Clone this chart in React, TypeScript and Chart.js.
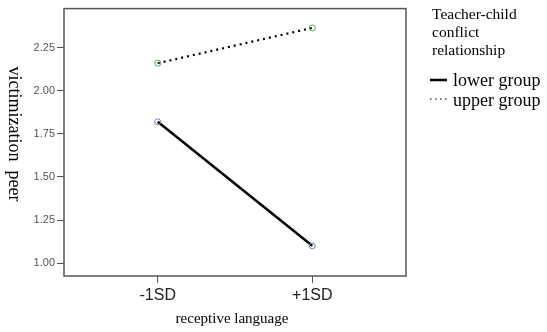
import React, { useEffect, useRef } from "react";
import { Chart, registerables } from "chart.js";

Chart.register(...registerables);

const categories = ["-1SD", "+1SD"];
const xPositions = [-1, 1];
const lowerGroup = [1.82, 1.1];
const upperGroup = [2.16, 2.365];
const yTicks = [1.0, 1.25, 1.5, 1.75, 2.0, 2.25];
const legendTitle = ["Teacher-child", "conflict", "relationship"];
const seriesNames = ["lower group", "upper group"];
const xTitle = "receptive language";
const yTitle = "victimization  peer";

export default function App() {
  const ref = useRef<HTMLCanvasElement>(null);
  useEffect(() => {
    document.body.style.margin = "0";
    const canvas = ref.current!;
    const serif = "'Liberation Serif', 'DejaVu Serif', serif";
    const sans = "'Liberation Sans', Arial, sans-serif";
    const decor = {
      id: "decor",
      afterDraw(chart: any) {
        const { ctx, chartArea: a } = chart;
        ctx.save();
        ctx.strokeStyle = "#555";
        ctx.lineWidth = 1.5;
        ctx.strokeRect(a.left, a.top, a.right - a.left, a.bottom - a.top);
        ctx.fillStyle = "#000";
        // axis titles
        ctx.font = `15px ${serif}`;
        ctx.textAlign = "center";
        ctx.textBaseline = "middle";
        ctx.fillText(xTitle, 232, 319);
        ctx.save();
        ctx.translate(14, 134);
        ctx.rotate(Math.PI / 2);
        ctx.font = `18px ${serif}`;
        ctx.fillText(yTitle, 0, 0);
        ctx.restore();
        // legend
        ctx.textAlign = "left";
        ctx.textBaseline = "alphabetic";
        ctx.font = `15.5px ${serif}`;
        legendTitle.forEach((t, i) => ctx.fillText(t, 432, 19 + i * 18));
        ctx.font = `18px ${serif}`;
        const ly = [86, 106];
        ctx.fillText(seriesNames[0], 453, ly[0]);
        ctx.fillText(seriesNames[1], 453, ly[1]);
        ctx.strokeStyle = "#000";
        ctx.lineWidth = 2.5;
        ctx.beginPath();
        ctx.moveTo(430, ly[0] - 6);
        ctx.lineTo(447, ly[0] - 6);
        ctx.stroke();
        ctx.lineWidth = 1.5;
        ctx.strokeStyle = "#444";
        ctx.setLineDash([1.5, 3.5]);
        ctx.beginPath();
        ctx.moveTo(430, ly[1] - 7);
        ctx.lineTo(447, ly[1] - 7);
        ctx.stroke();
        ctx.restore();
      },
    };
    const chart = new Chart(canvas, {
      type: "line",
      data: {
        datasets: [
          {
            label: seriesNames[0],
            data: xPositions.map((x, i) => ({ x, y: lowerGroup[i] })),
            borderColor: "#000",
            borderWidth: 2.5,
            pointRadius: 3,
            pointBorderColor: "#6f7fb0",
            pointBackgroundColor: "rgba(255,255,255,0)",
            pointBorderWidth: 1,
          },
          {
            label: seriesNames[1],
            data: xPositions.map((x, i) => ({ x, y: upperGroup[i] })),
            borderColor: "#000",
            borderWidth: 2.2,
            borderDash: [2, 4],
            pointRadius: 3,
            pointBorderColor: "#5aa865",
            pointBackgroundColor: "rgba(255,255,255,0)",
            pointBorderWidth: 1,
          },
        ],
      },
      options: {
        animation: false,
        responsive: false,
        layout: { padding: { top: 7, right: 141, left: 0, bottom: 0 } },
        plugins: { legend: { display: false }, tooltip: { enabled: false } },
        scales: {
          x: {
            type: "linear",
            min: -2.213,
            max: 2.213,
            afterBuildTicks: (s: any) => {
              s.ticks = xPositions.map((v) => ({ value: v }));
            },
            afterFit: (s: any) => {
              s.height = 56;
            },
            ticks: {
              callback: (v: any) => categories[xPositions.indexOf(Number(v))] ?? "",
              color: "#222",
              font: { family: sans, size: 16 },
              padding: 3,
              maxRotation: 0,
            },
            grid: { drawOnChartArea: false, tickLength: 7, color: "#555", lineWidth: 1 },
            border: { display: false },
          },
          y: {
            min: 0.925,
            max: 2.477,
            afterBuildTicks: (s: any) => {
              s.ticks = yTicks.map((v) => ({ value: v }));
            },
            afterFit: (s: any) => {
              s.width = 64;
            },
            ticks: {
              callback: (v: any) => Number(v).toFixed(2),
              color: "#555",
              font: { family: sans, size: 11 },
              padding: 2,
            },
            grid: { drawOnChartArea: false, tickLength: 7, color: "#555", lineWidth: 1 },
            border: { display: false },
          },
        },
      },
      plugins: [decor],
    } as any);
    return () => chart.destroy();
  }, []);
  return (
    <div style={{ position: "absolute", left: 0, top: 0, width: 547, height: 332, background: "#fff" }}>
      <canvas ref={ref} width={547} height={332} style={{ width: 547, height: 332 }} />
    </div>
  );
}
